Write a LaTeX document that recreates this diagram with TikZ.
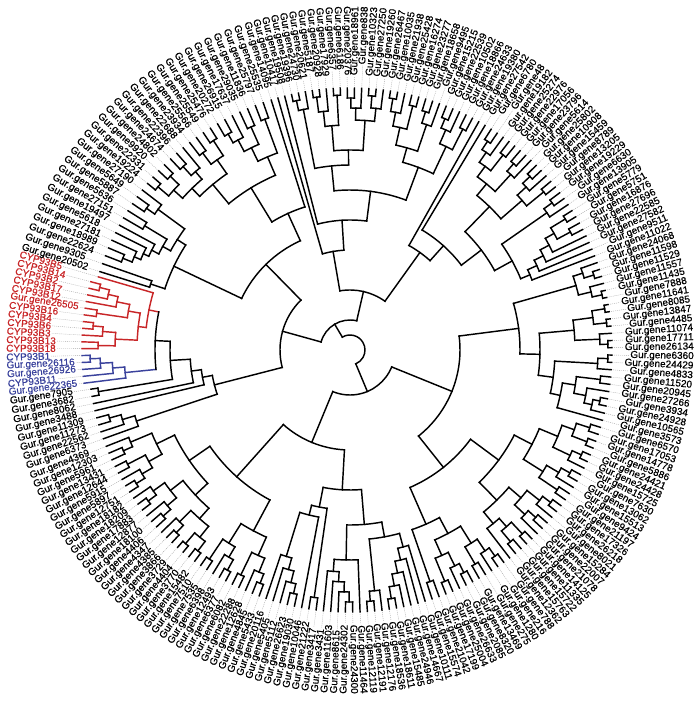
\documentclass[tikz,border=0pt]{standalone}
\usepackage{fontspec}
\setmainfont{Liberation Sans}
\newfontfamily\labfont{Liberation Sans}[FakeBold=0.6]
\definecolor{cypred}{RGB}{200,38,40}
\definecolor{cypblue}{RGB}{58,66,156}

% angle of tip number #1, piecewise as in the figure
\newcommand\tipangle[1]{%
  \ifnum#1<8 \pgfmathsetmacro\ang{199.8-#1*1.6}%
  \else\ifnum#1<13 \pgfmathsetmacro\ang{188.6-(#1-7)*1.4833}%
  \else\ifnum#1<25 \pgfmathsetmacro\ang{179.7-(#1-13)*1.4455}%
  \else\ifnum#1<56 \pgfmathsetmacro\ang{162.6-(#1-25)*1.8367}%
  \else\ifnum#1<67 \pgfmathsetmacro\ang{107.5-(#1-55)*1.5364}%
  \else\ifnum#1<124 \pgfmathsetmacro\ang{90.6-(#1-66)*1.5807}%
  \else \pgfmathsetmacro\ang{0.5-(#1-123)*1.6054}%
  \fi\fi\fi\fi\fi\fi}

% internal node: [colour]{name}{radius}{children, clockwise}
\newcommand\clade[4][black]{%
  \foreach \ch [count=\k] in {#4}{%
    \ifnum\k=1 \xdef\cfirst{\ch}\fi
    \xdef\clast{\ch}}%
  \edef\aone{\csname A@\cfirst\endcsname}%
  \edef\atwo{\csname A@\clast\endcsname}%
  \pgfmathsetmacro\amid{(\aone+\atwo)/2}%
  \expandafter\xdef\csname A@#2\endcsname{\amid}%
  \expandafter\xdef\csname C@#2\endcsname{#1}%
  \coordinate (#2) at (\amid:#3pt);
  \foreach \ch in {#4}{%
    \edef\chang{\csname A@\ch\endcsname}%
    \edef\chcol{\csname C@\ch\endcsname}%
    \coordinate (\ch-f) at (\chang:#3pt);
    \draw[branch,color=\chcol] (\ch-f) -- (\ch);}%
  \draw[branch,color=#1] (\cfirst-f) arc[start angle=\aone, end angle=\atwo, radius=#3pt];
}

\begin{document}
\begin{tikzpicture}[
    branch/.style={line width=1.45pt, line cap=rect},
    leader/.style={gray!70, line width=0.4pt, dash pattern=on 1pt off 1pt},
    tiplab/.style={font=\labfont\fontsize{10}{12}\selectfont, inner sep=1pt},
  ]
  \useasboundingbox (-350pt,-352pt) rectangle (350pt,350pt);
  % tips and labels
  \foreach \tip/\gname [count=\i from 0] in {262/Gur.gene6373,262/Gur.gene22562,262/Gur.gene11273,262/Gur.gene11309,
    262/Gur.gene3488,262/Gur.gene8062,262/Gur.gene3682,262/Gur.gene7905,
    268/Gur.gene22365,268/CYP93B11,268/Gur.gene26926,268/Gur.gene26116,268/CYP93B1,
    268/CYP93B18,268/CYP93B13,268/CYP93B3,268/CYP93B6,268/CYP93B4,268/CYP93B16,
    268/Gur.gene26505,268/CYP93B12,268/CYP93B17,268/CYP93B2,268/CYP93B14,262/CYP93B5,
    262/Gur.gene20502,262/Gur.gene9305,262/Gur.gene22624,262/Gur.gene18989,262/Gur.gene27181,
    262/Gur.gene5618,262/Gur.gene19497,262/Gur.gene27151,262/Gur.gene5636,262/Gur.gene5887,
    262/Gur.gene5649,262/Gur.gene27190,262/Gur.gene19224,262/Gur.gene22331,262/Gur.gene9920,
    262/Gur.gene24802,262/Gur.gene24674,262/Gur.gene22396,262/Gur.gene22688,262/Gur.gene23934,
    262/Gur.gene25566,262/Gur.gene25549,262/Gur.gene25476,262/Gur.gene20272,262/Gur.gene26915,
    262/Gur.gene17637,262/Gur.gene29035,262/Gur.gene11836,262/Gur.gene25797,262/Gur.gene25535,
    262/Gur.gene14095,262/Gur.gene10417,262/Gur.gene19508,262/Gur.gene19396,262/Gur.gene24730,
    262/Gur.gene20621,262/Gur.gene5187,262/Gur.gene20928,262/Gur.gene17929,262/Gur.gene6357,
    262/Gur.gene6186,262/Gur.gene20376,262/Gur.gene18961,262/Gur.gene838,262/Gur.gene10323,
    262/Gur.gene27250,262/Gur.gene19260,262/Gur.gene26467,262/Gur.gene10035,262/Gur.gene21938,
    262/Gur.gene25428,262/Gur.gene16274,262/Gur.gene23277,262/Gur.gene18658,262/Gur.gene9495,
    262/Gur.gene15215,262/Gur.gene22539,262/Gur.gene10502,262/Gur.gene18866,262/Gur.gene24633,
    262/Gur.gene19380,262/Gur.gene27542,262/Gur.gene6780,262/Gur.gene48,262/Gur.gene19182,
    262/Gur.gene25274,262/Gur.gene22976,262/Gur.gene17056,262/Gur.gene23796,262/Gur.gene5614,
    262/Gur.gene25802,262/Gur.gene10908,262/Gur.gene15459,262/Gur.gene8789,262/Gur.gene13205,
    262/Gur.gene19229,262/Gur.gene6630,262/Gur.gene13905,262/Gur.gene5779,262/Gur.gene5751,
    262/Gur.gene16876,262/Gur.gene27696,262/Gur.gene22585,262/Gur.gene27582,262/Gur.gene9511,
    262/Gur.gene11022,262/Gur.gene24068,262/Gur.gene11598,262/Gur.gene11529,262/Gur.gene11557,
    262/Gur.gene11435,262/Gur.gene7888,262/Gur.gene11641,262/Gur.gene8085,262/Gur.gene13847,
    262/Gur.gene4485,262/Gur.gene11074,262/Gur.gene17711,262/Gur.gene26134,262/Gur.gene6360,
    262/Gur.gene24429,262/Gur.gene4833,262/Gur.gene11520,262/Gur.gene20945,262/Gur.gene27266,
    262/Gur.gene3934,262/Gur.gene24928,262/Gur.gene10565,262/Gur.gene3573,262/Gur.gene6570,
    262/Gur.gene17053,262/Gur.gene14778,262/Gur.gene5886,262/Gur.gene24421,262/Gur.gene24428,
    262/Gur.gene15725,262/Gur.gene7630,262/Gur.gene13062,262/Gur.gene15513,262/Gur.gene9424,
    262/Gur.gene21197,262/Gur.gene17326,262/Gur.gene26218,262/Gur.gene8021,262/Gur.gene15284,
    262/Gur.gene22007,262/Gur.gene21078,262/Gur.gene14125,262/Gur.gene11335,262/Gur.gene15722,
    262/Gur.gene15763,262/Gur.gene12362,262/Gur.gene788,262/Gur.gene216,262/Gur.gene1280,
    262/Gur.gene275,262/Gur.gene13469,262/Gur.gene8320,262/Gur.gene2085,262/Gur.gene26633,
    262/Gur.gene25004,262/Gur.gene17199,262/Gur.gene21042,262/Gur.gene15574,262/Gur.gene10111,
    262/Gur.gene14667,262/Gur.gene24946,262/Gur.gene15485,262/Gur.gene18611,262/Gur.gene18536,
    262/Gur.gene12176,262/Gur.gene12191,262/Gur.gene12119,262/Gur.gene11464,262/Gur.gene24300,
    262/Gur.gene24302,262/Gur.gene8615,262/Gur.gene11603,262/Gur.gene3431,262/Gur.gene3417,
    262/Gur.gene21222,262/Gur.gene10046,262/Gur.gene19030,262/Gur.gene26623,262/Gur.gene5112,
    262/Gur.gene5405,262/Gur.gene20116,262/Gur.gene5433,262/Gur.gene4845,262/Gur.gene12628,
    262/Gur.gene22288,262/Gur.gene6082,262/Gur.gene6377,262/Gur.gene12493,262/Gur.gene6398,
    262/Gur.gene7535,262/Gur.gene7510,262/Gur.gene15482,262/Gur.gene3770,262/Gur.gene4404,
    262/Gur.gene3729,262/Gur.gene3866,262/Gur.gene4385,262/Gur.gene4347,262/Gur.gene4406,
    262/Gur.gene18100,262/Gur.gene12877,262/Gur.gene17883,262/Gur.gene18209,262/Gur.gene18182,
    262/Gur.gene12751,262/Gur.gene5897,262/Gur.gene5915,262/Gur.gene12644,262/Gur.gene13431,
    262/Gur.gene5961,262/Gur.gene12303,262/Gur.gene4369}{%
    \tipangle{\i}%
    \ifnum\i<8 \def\lcol{black}\else\ifnum\i<13 \def\lcol{cypblue}\else
      \ifnum\i<25 \def\lcol{cypred}\else\def\lcol{black}\fi\fi\fi
    \expandafter\xdef\csname A@l\i\endcsname{\ang}%
    \expandafter\xdef\csname C@l\i\endcsname{\lcol}%
    \coordinate (l\i) at (\ang:\tip pt);
    \pgfmathtruncatemacro\side{cos(\ang)>=0}%
    \ifnum\side=1
      \node[tiplab,text=\lcol,rotate=\ang,anchor=east] (t\i) at (\ang:345pt) {\gname};
    \else
      \pgfmathsetmacro\rot{\ang+180}%
      \node[tiplab,text=\lcol,rotate=\rot,anchor=west] (t\i) at (\ang:345pt) {\gname};
    \fi
    \draw[leader] (l\i) -- (t\i);
  }
  % left: long branches, CYP93B clades, upper left
  \clade{lw1}{250}{l2,l3}
  \clade{lw2}{238}{l1,lw1}
  \clade{lw3}{225}{l0,lw2}
  \clade{lw4}{255}{l6,l7}
  \clade[cypblue]{bu1}{260}{l11,l12}
  \clade[cypblue]{bu2}{250}{l10,bu1}
  \clade[cypblue]{bu3}{238}{l9,bu2}
  \clade[cypblue]{bu4}{226}{l8,bu3}
  \clade[cypred]{rd1}{252}{l13,l14}
  \clade[cypred]{rd2}{258}{l16,l17}
  \clade[cypred]{rd3}{248}{l15,rd2}
  \clade[cypred]{rd4}{235}{rd1,rd3}
  \clade[cypred]{rd5}{256}{l18,l19}
  \clade[cypred]{rd6}{258}{l22,l23}
  \clade[cypred]{rd7}{248}{l21,rd6}
  \clade[cypred]{rd8}{238}{l20,rd7}
  \clade[cypred]{rd9}{225}{rd5,rd8}
  \clade[cypred]{rd10}{213}{rd4,rd9}
  \clade[cypred]{rd11}{205}{rd10,l24}
  \clade{rb1}{195}{bu4,rd11}
  \clade{rb2}{180}{lw4,rb1}
  \clade{rb3}{160}{l5,rb2}
  \clade{rb4}{150}{l4,rb3}
  \clade{rb5}{140}{lw3,rb4}
  \clade{tl1}{210}{l25,l26}
  \clade{tl2}{245}{l27,l28}
  \clade{tl3}{235}{tl2,l29}
  \clade{tl4}{228}{tl3,l30}
  \clade{tl5}{222}{tl4,l31}
  \clade{tl6}{240}{l32,l33}
  \clade{tl7}{214}{tl5,tl6}
  \clade{tl8}{248}{l34,l35}
  \clade{tl9}{238}{tl8,l36}
  \clade{tl10}{205}{tl7,tl9}
  \clade{tl11}{195}{tl1,tl10}
  \clade{tl12}{252}{l37,l38}
  \clade{tl13}{250}{l39,l40}
  \clade{tl14}{238}{tl12,tl13}
  \clade{tl15}{248}{l41,l42}
  \clade{tl16}{236}{tl15,l43}
  \clade{tl17}{226}{tl14,tl16}
  \clade{tl18}{246}{l44,l45}
  \clade{tl19}{250}{l46,l47}
  \clade{tl20}{232}{tl18,tl19}
  \clade{tl21}{215}{tl17,tl20}
  \clade{tl22}{248}{l48,l49}
  \clade{tl23}{238}{tl22,l50}
  \clade{tl24}{244}{l51,l52}
  \clade{tl25}{225}{tl23,tl24}
  \clade{tl26}{246}{l53,l54}
  \clade{tl27}{210}{tl25,tl26}
  \clade{tl28}{190}{tl21,tl27}
  \clade{tl29}{150}{tl28,l55}
  \clade{tl30}{120}{tl11,tl29}
  \clade{xl}{70}{rb5,tl30}
  % top
  \clade{tp1}{255}{l58,l59}
  \clade{tp2}{245}{tp1,l60}
  \clade{tp3}{255}{l61,l62}
  \clade{tp4}{240}{tp3,l63}
  \clade{tp5}{255}{l64,l65}
  \clade{tp6}{225}{tp4,tp5}
  \clade{tp7}{252}{l66,l67}
  \clade{tp8}{242}{tp7,l68}
  \clade{tp9}{255}{l69,l70}
  \clade{tp10}{243}{tp9,l71}
  \clade{tp11}{230}{tp8,tp10}
  \clade{tp12}{200}{tp6,tp11}
  \clade{tp13}{185}{tp2,tp12}
  \clade{tp14}{255}{l72,l73}
  \clade{tp15}{242}{tp14,l74}
  \clade{tp16}{252}{l75,l76}
  \clade{tp17}{228}{tp15,tp16}
  \clade{tp18}{250}{l77,l78}
  \clade{tp19}{238}{tp18,l79}
  \clade{tp20}{210}{tp17,tp19}
  \clade{tp21}{250}{l80,l81}
  \clade{tp22}{240}{tp21,l82}
  \clade{tp23}{248}{l83,l84}
  \clade{tp24}{225}{tp22,tp23}
  \clade{tp25}{195}{tp20,tp24}
  \clade{tp26}{160}{tp13,tp25}
  \clade{tp27}{130}{l57,tp26}
  \clade{tp28}{100}{l56,tp27}
  % top right
  \clade{tr1}{250}{l87,l88}
  \clade{tr2}{240}{tr1,l89}
  \clade{tr3}{248}{l90,l91}
  \clade{tr4}{228}{tr2,tr3}
  \clade{tr5}{248}{l92,l93}
  \clade{tr6}{238}{tr5,l94}
  \clade{tr7}{215}{tr4,tr6}
  \clade{tr8}{250}{l95,l96}
  \clade{tr9}{240}{tr8,l97}
  \clade{tr10}{250}{l98,l99}
  \clade{tr11}{228}{tr9,tr10}
  \clade{tr12}{200}{tr7,tr11}
  \clade{tr13}{250}{l100,l101}
  \clade{tr14}{240}{tr13,l102}
  \clade{tr15}{252}{l103,l104}
  \clade{tr16}{250}{l105,l106}
  \clade{tr17}{235}{tr15,tr16}
  \clade{tr18}{225}{tr17,l107}
  \clade{tr19}{215}{tr18,l108}
  \clade{tr20}{205}{tr19,l109}
  \clade{tr21}{195}{tr20,l110}
  \clade{tr22}{185}{tr14,tr21}
  \clade{tr23}{165}{tr12,tr22}
  \clade{tr24}{140}{l86,tr23}
  \clade{tr25}{120}{l85,tr24}
  \clade{xt}{60}{tp28,tr25}
  \clade{xu}{30}{xl,xt}
  % right
  \clade{rt1}{255}{l112,l113}
  \clade{rt2}{245}{l111,rt1}
  \clade{rt3}{258}{l115,l116}
  \clade{rt4}{248}{l114,rt3}
  \clade{rt5}{235}{rt2,rt4}
  \clade{rt6}{258}{l117,l118}
  \clade{rt7}{258}{l119,l120}
  \clade{rt8}{245}{rt6,rt7}
  \clade{rt9}{258}{l122,l123}
  \clade{rt10}{250}{l121,rt9}
  \clade{rt11}{225}{rt8,rt10}
  \clade{rt12}{258}{l124,l125}
  \clade{rt13}{248}{rt12,l126}
  \clade{rt14}{252}{l127,l128}
  \clade{rt15}{255}{l130,l131}
  \clade{rt16}{248}{rt15,l132}
  \clade{rt17}{240}{l129,rt16}
  \clade{rt18}{228}{rt14,rt17}
  \clade{rt19}{215}{rt18,l133}
  \clade{rt20}{205}{rt13,rt19}
  \clade{rt21}{190}{rt11,rt20}
  \clade{rt22}{170}{rt5,rt21}
  % bottom right
  \clade{br1}{252}{l134,l135}
  \clade{br2}{254}{l136,l137}
  \clade{br3}{238}{br1,br2}
  \clade{br4}{254}{l138,l139}
  \clade{br5}{244}{br4,l140}
  \clade{br6}{225}{br3,br5}
  \clade{br7}{252}{l141,l142}
  \clade{br8}{242}{br7,l143}
  \clade{br9}{250}{l144,l145}
  \clade{br10}{228}{br8,br9}
  \clade{br11}{205}{br6,br10}
  \clade{br12}{252}{l146,l147}
  \clade{br13}{242}{br12,l148}
  \clade{br14}{250}{l149,l150}
  \clade{br15}{240}{br14,l151}
  \clade{br16}{226}{br13,br15}
  \clade{br17}{252}{l152,l153}
  \clade{br18}{250}{l154,l155}
  \clade{br19}{236}{br17,br18}
  \clade{br20}{225}{br19,l156}
  \clade{br21}{210}{br16,br20}
  \clade{br22}{185}{br11,br21}
  \clade{br23}{252}{l157,l158}
  \clade{br24}{242}{br23,l159}
  \clade{br25}{248}{l160,l161}
  \clade{br26}{228}{br24,br25}
  \clade{br27}{250}{l162,l163}
  \clade{br28}{240}{br27,l164}
  \clade{br29}{250}{l165,l166}
  \clade{br30}{225}{br28,br29}
  \clade{br31}{208}{br26,br30}
  \clade{br32}{245}{l167,l168}
  \clade{br33}{190}{br31,br32}
  \clade{br34}{150}{br22,br33}
  \clade{xr}{110}{rt22,br34}
  % bottom
  \clade{bt1}{252}{l173,l174}
  \clade{bt2}{240}{l172,bt1}
  \clade{bt3}{228}{l171,bt2}
  \clade{bt4}{216}{l170,bt3}
  \clade{bt5}{204}{l169,bt4}
  \clade{bt6}{252}{l176,l177}
  \clade{bt7}{242}{l175,bt6}
  \clade{bt8}{190}{bt5,bt7}
  \clade{bt9}{252}{l179,l180}
  \clade{bt10}{242}{bt9,l181}
  \clade{bt11}{232}{bt10,l182}
  \clade{bt12}{222}{bt11,l183}
  \clade{bt13}{210}{l178,bt12}
  \clade{bt14}{175}{bt8,bt13}
  \clade{bt15}{250}{l184,l185}
  \clade{bt16}{250}{l187,l188}
  \clade{bt17}{240}{bt16,l189}
  \clade{bt18}{228}{bt17,l190}
  \clade{bt19}{216}{bt18,l191}
  \clade{bt20}{170}{l186,bt19}
  \clade{bt21}{160}{bt15,bt20}
  \clade{bt22}{140}{bt14,bt21}
  % bottom left
  \clade{bl1}{250}{l192,l193}
  \clade{bl2}{240}{bl1,l194}
  \clade{bl3}{250}{l195,l196}
  \clade{bl4}{225}{bl2,bl3}
  \clade{bl5}{252}{l197,l198}
  \clade{bl6}{240}{bl5,l199}
  \clade{bl7}{252}{l200,l201}
  \clade{bl8}{228}{bl6,bl7}
  \clade{bl9}{205}{bl4,bl8}
  \clade{bl10}{252}{l202,l203}
  \clade{bl11}{254}{l204,l205}
  \clade{bl12}{240}{bl10,bl11}
  \clade{bl13}{252}{l206,l207}
  \clade{bl14}{242}{bl13,l208}
  \clade{bl15}{226}{bl12,bl14}
  \clade{bl16}{250}{l209,l210}
  \clade{bl17}{240}{bl16,l211}
  \clade{bl18}{252}{l212,l213}
  \clade{bl19}{242}{bl18,l214}
  \clade{bl20}{228}{bl17,bl19}
  \clade{bl21}{212}{bl15,bl20}
  \clade{bl22}{252}{l215,l216}
  \clade{bl23}{242}{bl22,l217}
  \clade{bl24}{250}{l218,l219}
  \clade{bl25}{230}{bl23,bl24}
  \clade{bl26}{248}{l220,l221}
  \clade{bl27}{238}{bl26,l222}
  \clade{bl28}{215}{bl25,bl27}
  \clade{bl29}{195}{bl21,bl28}
  \clade{bl30}{170}{bl9,bl29}
  \clade{xb}{100}{bt22,bl30}
  \clade{xd}{45}{xr,xb}
  \clade{root}{15}{xu,xd}
\end{tikzpicture}
\end{document}
